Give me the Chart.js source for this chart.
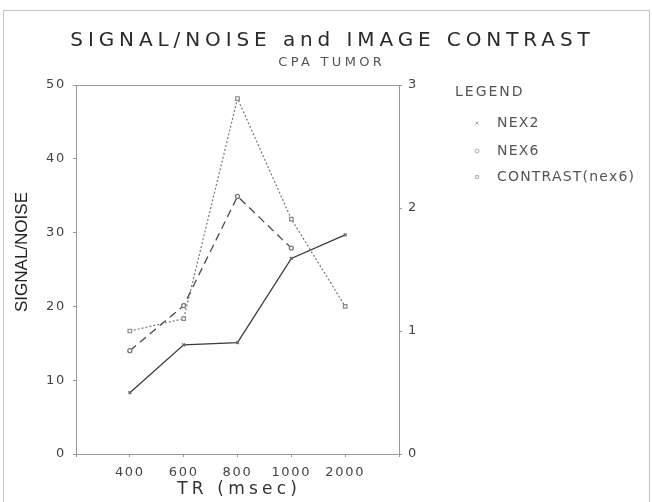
<!DOCTYPE html>
<html>
<head>
<meta charset="utf-8">
<script src="https://cdn.jsdelivr.net/npm/chart.js@4"></script>
<style>
  body { margin: 0; background: #fff; }
  #wrap { position: relative; width: 652px; height: 502px; overflow: hidden; }
  #frame { position: absolute; left: 3px; top: 10px; width: 645px; height: 500px;
           border: 1px solid #c4c4c4; border-bottom: none; }
  canvas { position: absolute; left: 0; top: 0; }
</style>
</head>
<body>
<div id="wrap">
  <div id="frame"></div>
  <canvas id="chart" width="652" height="502"></canvas>
</div>
<script>
const trLabels = ["400", "600", "800", "1000", "2000"];
const nex2 = [8.3, 14.8, 15.1, 26.5, 29.7];
const nex6 = [14.0, 20.1, 34.9, 27.9];
const contrast = [1.0, 1.1, 2.89, 1.91, 1.2];

const FONT = "'DejaVu Sans', sans-serif";

function toPoints(arr) {
  return arr.map((v, i) => ({ x: i, y: v }));
}

// plotter-style text with wide letter spacing
function spacedText(ctx, text, x, y, size, spacing, align, color, family) {
  ctx.save();
  ctx.font = size + "px " + (family || FONT);
  ctx.letterSpacing = spacing + "px";
  ctx.fillStyle = color;
  ctx.textBaseline = "middle";
  ctx.textAlign = "left";
  const w = ctx.measureText(text).width - spacing;
  let sx = x;
  if (align === "center") sx = x - w / 2;
  if (align === "right") sx = x - w;
  ctx.fillText(text, sx, y);
  ctx.restore();
}

const plotterText = {
  id: "plotterText",
  beforeDraw(chart) {
    chart.ctx.letterSpacing = "1.7px"; // tick labels
  },
  afterDraw(chart) {
    const ctx = chart.ctx;
    spacedText(ctx, "SIGNAL/NOISE and IMAGE CONTRAST", 330, 41, 20, 4.9, "center", "#2a2a2a");
    spacedText(ctx, "CPA TUMOR", 330, 63, 13, 3.3, "center", "#555");
    spacedText(ctx, "TR (msec)", 237, 490, 17, 4.2, "center", "#333");

    ctx.save();
    ctx.translate(22, 252);
    ctx.rotate(-Math.PI / 2);
    spacedText(ctx, "SIGNAL/NOISE", 0, 0, 17, 0, "center", "#222",
      "'Liberation Sans Narrow', 'Liberation Sans', sans-serif");
    ctx.restore();

    // legend
    spacedText(ctx, "LEGEND", 455, 92, 14, 2, "left", "#555");
    const rows = [123, 151, 177];
    chart.data.datasets.forEach((ds, i) => {
      ctx.save();
      ctx.strokeStyle = "#aaa";
      ctx.fillStyle = "#fff";
      Chart.helpers.drawPoint(ctx, {
        pointStyle: ds.pointStyle, radius: 2, rotation: 0, borderWidth: 1
      }, 477, rows[i]);
      ctx.restore();
      spacedText(ctx, ds.label, 497, rows[i], 14, 1.2, "left", "#555");
    });
  }
};

const axisGrid = {
  drawOnChartArea: false,
  drawTicks: true,
  tickLength: 3,
  color: "#999"
};
const axisBorder = { color: "#999", width: 1 };
const tickFont = { family: FONT, size: 13 };

new Chart(document.getElementById("chart"), {
  type: "line",
  data: {
    datasets: [
      {
        label: "NEX2",
        data: toPoints(nex2),
        yAxisID: "y",
        borderColor: "#3a3a3a",
        borderWidth: 1.3,
        pointStyle: "crossRot",
        pointRadius: 2,
        pointBorderColor: "#666",
        pointBackgroundColor: "#fff",
        tension: 0
      },
      {
        label: "NEX6",
        data: toPoints(nex6),
        yAxisID: "y",
        borderColor: "#4a4a4a",
        borderWidth: 1.3,
        borderDash: [8, 5],
        pointStyle: "circle",
        pointRadius: 2,
        pointBorderColor: "#777",
        pointBackgroundColor: "#fff",
        tension: 0
      },
      {
        label: "CONTRAST(nex6)",
        data: toPoints(contrast),
        yAxisID: "y1",
        borderColor: "#777",
        borderWidth: 1.2,
        borderDash: [2, 2],
        pointStyle: "rect",
        pointRadius: 2.5,
        pointBorderColor: "#888",
        pointBackgroundColor: "#fff",
        tension: 0
      }
    ]
  },
  options: {
    responsive: false,
    animation: false,
    devicePixelRatio: 1,
    layout: { padding: { top: 85, bottom: 0, left: 0, right: 223 } },
    plugins: {
      legend: { display: false },
      title: { display: false },
      tooltip: { enabled: false }
    },
    scales: {
      x: {
        type: "linear",
        position: "bottom",
        min: -1,
        max: 5,
        grid: axisGrid,
        border: axisBorder,
        ticks: {
          stepSize: 1,
          autoSkip: false,
          maxRotation: 0,
          padding: 8,
          color: "#444",
          font: tickFont,
          callback: (v) => trLabels[v] || ""
        },
        afterFit: (s) => { s.height = 48; }
      },
      xTop: {
        type: "linear",
        position: "top",
        min: -1,
        max: 5,
        grid: { display: true, drawOnChartArea: false, drawTicks: false, color: "#999" },
        border: axisBorder,
        ticks: { display: false },
        afterFit: (s) => { s.height = 0; }
      },
      y: {
        position: "left",
        min: 0,
        max: 50,
        grid: axisGrid,
        border: axisBorder,
        ticks: { stepSize: 10, padding: 7, color: "#444", font: tickFont },
        afterFit: (s) => { s.width = 76; }
      },
      y1: {
        position: "right",
        min: 0,
        max: 3,
        grid: axisGrid,
        border: axisBorder,
        ticks: { stepSize: 1, padding: 6, color: "#444", font: tickFont },
        afterFit: (s) => { s.width = 30; }
      }
    }
  },
  plugins: [plotterText]
});
</script>
</body>
</html>
